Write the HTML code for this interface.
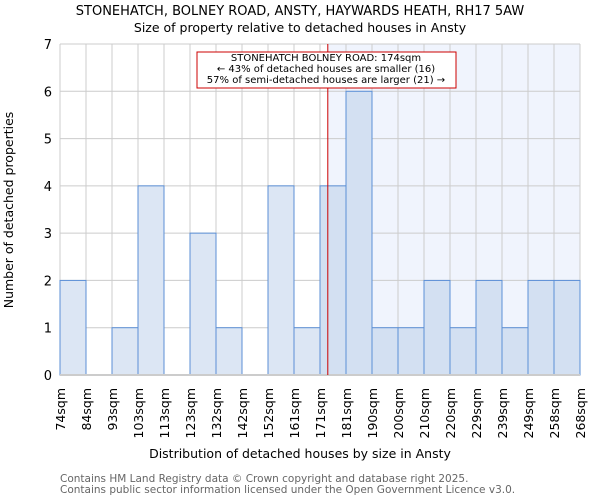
<!DOCTYPE html>
<html><head><meta charset="utf-8"><style>
body{margin:0;background:#fff;font-family:"DejaVu Sans","Liberation Sans",sans-serif}
</style></head><body>
<svg width="600" height="500" xmlns="http://www.w3.org/2000/svg" font-family="DejaVu Sans, Liberation Sans, sans-serif">
<text x="300" y="15" text-anchor="middle" font-size="13">STONEHATCH, BOLNEY ROAD, ANSTY, HAYWARDS HEATH, RH17 5AW</text>
<text x="300" y="32" text-anchor="middle" font-size="12.5">Size of property relative to detached houses in Ansty</text>
<g id="plot"></g>
<text x="300" y="458" text-anchor="middle" font-size="12.5">Distribution of detached houses by size in Ansty</text>
<text transform="translate(13,210) rotate(-90)" text-anchor="middle" font-size="12.5">Number of detached properties</text>
<text x="60" y="482" font-size="10.5" fill="#666">Contains HM Land Registry data © Crown copyright and database right 2025.</text>
<text x="60" y="493" font-size="10.5" fill="#666">Contains public sector information licensed under the Open Government Licence v3.0.</text>
</svg>
<script>
const tickLabels=["74sqm","84sqm","93sqm","103sqm","113sqm","123sqm","132sqm","142sqm","152sqm","161sqm","171sqm","181sqm","190sqm","200sqm","210sqm","220sqm","229sqm","239sqm","249sqm","258sqm","268sqm"];
const counts=[2,0,1,4,0,3,1,0,4,1,4,6,1,1,2,1,2,1,2,2];
const yTicks=[0,1,2,3,4,5,6,7];
const markerBin=10.3;
const NS="http://www.w3.org/2000/svg";
const g=document.getElementById('plot');
const x0=60,x1=580,y0=375,y1=44,yMax=7;
const bw=(x1-x0)/counts.length;
const X=i=>x0+i*bw;
const Y=v=>y0-(v/yMax)*(y0-y1);
function mk(t,a){const e=document.createElementNS(NS,t);for(const k in a)e.setAttribute(k,a[k]);g.appendChild(e);return e;}
const mx=X(markerBin);
let bg=mk('rect',{x:mx,y:y1,width:x1-mx,height:y0-y1,fill:'#f0f4fd'});


yTicks.forEach(v=>{
 const l=mk('line',{x1:x0,x2:x1,y1:Y(v),y2:Y(v),stroke:'#ccc'});
 
 
 const t=mk('text',{x:x0-8,y:Y(v)+5,'text-anchor':'end','font-size':'13'});
 t.textContent=v;
 
 
});
tickLabels.forEach((s,i)=>{
 const l=mk('line',{x1:X(i),x2:X(i),y1:y1,y2:y0,stroke:'#ccc'});
 
 
 const t=mk('text',{transform:`translate(${X(i)+5},388) rotate(-90)`,'text-anchor':'end','font-size':'12.5'});
 t.textContent=s;
 
 
});
counts.forEach((c,i)=>{
 if(!c)return;
 const r=mk('rect',{x:X(i),y:Y(c),width:bw,height:y0-Y(c),fill:(i+1<=markerBin?'#dce6f4':'#d3e0f2'),stroke:'#5b8fd6','stroke-width':1});
 
 
});
const ax=mk('line',{x1:x0,x2:x1,y1:y0,y2:y0,stroke:'#ccc','stroke-width':2});


const ml=mk('line',{x1:mx,x2:mx,y1:y1,y2:y0,stroke:'#cc0000','stroke-width':1});


const box=mk('rect',{x:197,y:52,width:259,height:36,fill:'#fff',stroke:'#cc0000'});


["STONEHATCH BOLNEY ROAD: 174sqm","← 43% of detached houses are smaller (16)","57% of semi-detached houses are larger (21) →"].forEach((s,i)=>{
 const t=mk('text',{x:326,y:61+i*11,'text-anchor':'middle','font-size':'10'});
 t.textContent=s;
 
 
});
</script>
</body></html>
